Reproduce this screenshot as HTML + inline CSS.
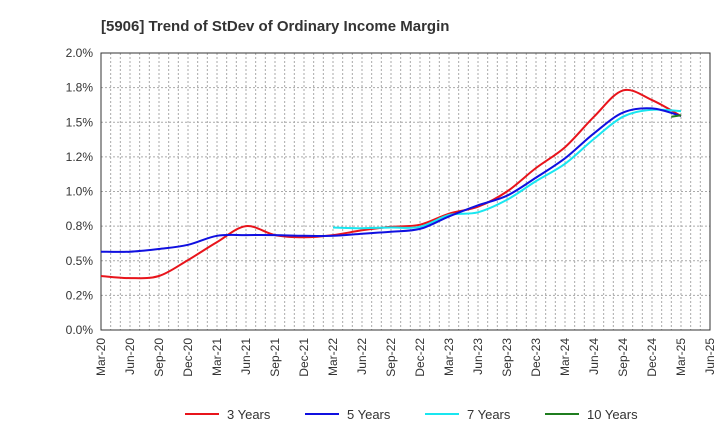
<!DOCTYPE html>
<html><head><meta charset="utf-8"><style>
body{margin:0;background:#fff;font-family:"Liberation Sans",sans-serif}
</style></head><body>
<svg id="c" width="720" height="440" xmlns="http://www.w3.org/2000/svg">
<text x="101" y="31" font-size="15" font-weight="bold" fill="#333">[5906]  Trend of StDev of Ordinary Income Margin</text>
<g id="grid"></g><g id="axes"></g><g id="series"></g><g id="legend"></g>
</svg>
<script>
const xLabels=["Mar-20","Jun-20","Sep-20","Dec-20","Mar-21","Jun-21","Sep-21","Dec-21","Mar-22","Jun-22","Sep-22","Dec-22","Mar-23","Jun-23","Sep-23","Dec-23","Mar-24","Jun-24","Sep-24","Dec-24","Mar-25","Jun-25"];
const yTicks=[0,0.25,0.5,0.75,1.0,1.25,1.5,1.75,2.0];
const yTickLabels=["0.0%","0.2%","0.5%","0.8%","1.0%","1.2%","1.5%","1.8%","2.0%"];
const s3=[0.39,0.375,0.39,0.505,0.635,0.75,0.685,0.67,0.685,0.72,0.745,0.76,0.84,0.89,1.0,1.17,1.32,1.54,1.73,1.66,1.545];
const s5=[0.565,0.565,0.585,0.615,0.68,0.685,0.685,0.68,0.68,0.695,0.71,0.73,0.82,0.9,0.97,1.1,1.24,1.42,1.57,1.6,1.545];
const s7=[null,null,null,null,null,null,null,null,0.74,0.735,0.74,0.745,0.83,0.85,0.94,1.075,1.2,1.38,1.54,1.59,1.58];
const s10=[null,null,null,null,null,null,null,null,null,null,null,null,null,null,null,null,null,null,null,null,1.55];
const s10prev=1.54;
const NS="http://www.w3.org/2000/svg";
const L=101,R=710,T=53,B=330;
const xq=i=>L+i*(R-L)/21;
const y=v=>B-v/2.0*(B-T);
function mk(tag,attrs,parent){const e=document.createElementNS(NS,tag);for(const k in attrs)e.setAttribute(k,attrs[k]);parent.appendChild(e);return e;}
const grid=document.getElementById('grid'),axes=document.getElementById('axes'),ser=document.getElementById('series'),leg=document.getElementById('legend');
for(let m=1;m<63;m++){const x=L+m*(R-L)/63;const g=mk('line',{x1:x,x2:x,y1:T,y2:B,stroke:'#aaa','stroke-dasharray':'2,2','stroke-width':1},grid);

}
yTicks.forEach((v,i)=>{if(i>0&&i<yTicks.length-1){const g=mk('line',{x1:L,x2:R,y1:y(v),y2:y(v),stroke:'#aaa','stroke-dasharray':'2,2'},grid);

}
const t=mk('text',{x:L-8,y:y(v)+4,'text-anchor':'end','font-size':12,fill:'#333'},axes);t.textContent=yTickLabels[i];

});
const fr=mk('rect',{x:L,y:T,width:R-L,height:B-T,fill:'none',stroke:'#333','stroke-width':1},axes);


xLabels.forEach((lb,i)=>{const x=xq(i);const t=mk('text',{transform:`translate(${x+4},${B+8}) rotate(-90)`,'text-anchor':'end','font-size':12,fill:'#333'},axes);t.textContent=lb;

});
function line(arr,color,name){const pts=[];arr.forEach((v,i)=>{if(v!=null)pts.push([xq(i),y(v)]);});
let d='M'+pts[0][0].toFixed(1)+','+pts[0][1].toFixed(1);
for(let k=0;k<pts.length-1;k++){const p0=pts[Math.max(0,k-1)],p1=pts[k],p2=pts[k+1],p3=pts[Math.min(pts.length-1,k+2)];
const c1=[p1[0]+(p2[0]-p0[0])/6,p1[1]+(p2[1]-p0[1])/6],c2=[p2[0]-(p3[0]-p1[0])/6,p2[1]-(p3[1]-p1[1])/6];
d+=`C${c1[0].toFixed(1)},${c1[1].toFixed(1)} ${c2[0].toFixed(1)},${c2[1].toFixed(1)} ${p2[0].toFixed(1)},${p2[1].toFixed(1)}`;}
const p=mk('path',{d:d,fill:'none',stroke:color,'stroke-width':2,'stroke-linejoin':'round'},ser);

}
line(s3,'#e8141b','series-3-years');
line(s7,'#19e6f0','series-7-years');
line(s5,'#1010e0','series-5-years');
const p10=mk('path',{d:`M${(xq(20)-9.7).toFixed(1)},${y(s10prev).toFixed(1)}L${xq(20).toFixed(1)},${y(s10[20]).toFixed(1)}`,fill:'none',stroke:'#1f7d1f','stroke-width':2},ser);


const items=[["3 Years","#e8141b",185],["5 Years","#1010e0",305],["7 Years","#19e6f0",425],["10 Years","#1f7d1f",545]];
items.forEach(([n,c,x])=>{const g=mk('g',{},leg);


mk('line',{x1:x,x2:x+34,y1:414,y2:414,stroke:c,'stroke-width':2},g);
const t=mk('text',{x:x+42,y:419,'font-size':13,fill:'#333'},g);t.textContent=n;});
</script>
</body></html>
